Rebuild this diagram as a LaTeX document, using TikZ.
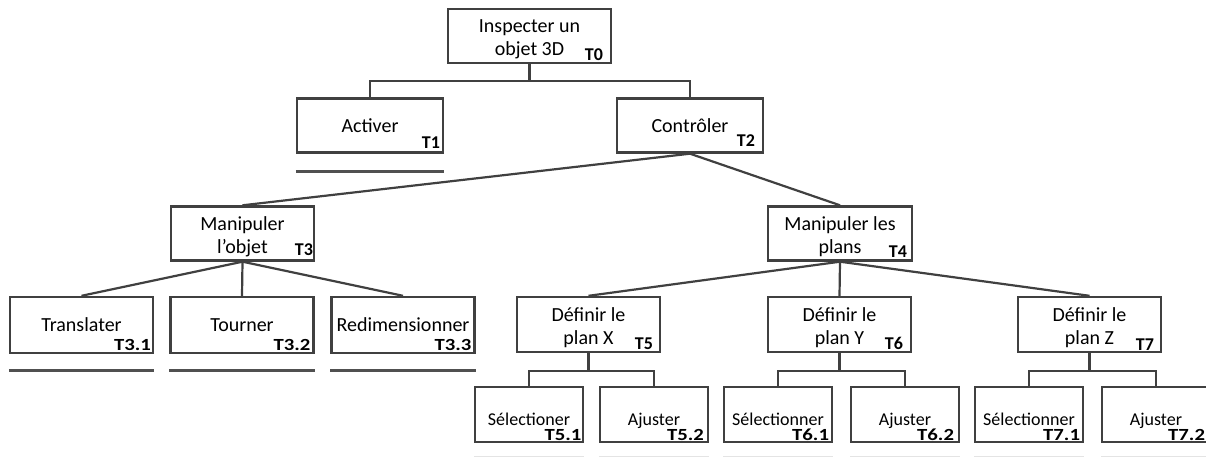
\documentclass[tikz,border=0pt]{standalone}
\usepackage{fontspec}
\setmainfont{Carlito}
\newfontfamily\labwide[FakeStretch=1.22]{Carlito}
\usetikzlibrary{calc}
\definecolor{linec}{RGB}{64,64,64}
\definecolor{ulc}{RGB}{80,80,80}
\definecolor{faint}{RGB}{228,228,228}
\newcommand\tlab[5]{\node[labst,#5] (#1l) at ([xshift=-#2pt,yshift=#3pt]#1.south east) {#4};}
\newcommand\twol[2]{\raisebox{-3.5pt}[\height][\depth]{\begin{tabular}{@{}c@{}}#1\\#2\end{tabular}}}
\begin{document}
\begin{tikzpicture}[x=1pt,y=-1pt,
  box/.style={draw=linec, line width=2.4pt, inner sep=0pt, fill=white,
    font=\fontsize{20}{23}\selectfont},
  top/.style={box, minimum width=146pt, minimum height=54pt},
  mid/.style={box, minimum width=143pt, minimum height=54pt},
  leaf/.style={box, minimum width=108pt, minimum height=55pt, text height=22pt, text depth=0pt,
    font=\fontsize{18}{21}\selectfont},
  labst/.style={inner sep=0pt, anchor=base east, font=\fontsize{18}{18}\selectfont\bfseries},
  wide/.style={font=\labwide\fontsize{17}{17}\selectfont\bfseries},
  conn/.style={draw=linec, line width=2.2pt},
  ul/.style={draw=ulc, line width=2.6pt},
  fl/.style={draw=faint, line width=1.6pt}]
\useasboundingbox (0,0) rectangle (1206,457);
% level 0
\node[box, minimum width=163pt, minimum height=54pt] (T0) at (529.5,36) {\twol{Inspecter un}{objet 3D}};
% level 1
\node[top] (T1) at (370,125.5) {Activer};
\node[top] (T2) at (690,125.5) {Contrôler};
% level 2
\node[mid] (T3) at (242.5,233.5) {\twol{Manipuler}{l’objet}};
\node[mid, minimum width=144pt] (T4) at (840,233.5) {\twol{Manipuler les}{plans}};
% level 3
\node[mid, minimum height=56pt] (T31) at (81.5,325) {Translater};
\node[mid, minimum height=56pt] (T32) at (242,325) {Tourner};
\node[mid, minimum height=56pt] (T33) at (403,325) {Redimensionner};
\node[mid, minimum height=55pt] (T5) at (588.5,324.5) {\twol{Définir le}{plan X}};
\node[mid, minimum height=55pt] (T6) at (839.5,324.5) {\twol{Définir le}{plan Y}};
\node[mid, minimum height=55pt] (T7) at (1089.5,324.5) {\twol{Définir le}{plan Z}};
% level 4
\node[leaf] (T51) at (529,414.5) {Sélectioner};
\node[leaf] (T52) at (654,414.5) {Ajuster};
\node[leaf] (T61) at (778,414.5) {Sélectionner};
\node[leaf] (T62) at (905,414.5) {Ajuster};
\node[leaf] (T71) at (1029,414.5) {Sélectionner};
\node[leaf] (T72) at (1156,414.5) {Ajuster};
% labels
\tlab{T0}{9}{4}{T0}{}
\tlab{T1}{4}{5}{T1}{}
\tlab{T2}{9}{7}{T2}{}
\tlab{T3}{2}{6}{T3}{}
\tlab{T4}{6}{4}{T4}{}
\tlab{T5}{8}{4}{T5}{}
\tlab{T6}{9}{4}{T6}{}
\tlab{T7}{8}{2.5}{T7}{}
\tlab{T31}{3}{4}{T3.1}{wide}
\tlab{T32}{4}{4}{T3.2}{wide}
\tlab{T33}{4}{4}{T3.3}{wide}
\tlab{T51}{2.5}{2.5}{T5.1}{wide}
\tlab{T52}{5}{2.5}{T5.2}{wide}
\tlab{T61}{4}{2.5}{T6.1}{wide}
\tlab{T62}{6}{2.5}{T6.2}{wide}
\tlab{T71}{4}{2.5}{T7.1}{wide}
\tlab{T72}{6}{2.5}{T7.2}{wide}
% connectors
\draw[conn] (T0.south) -- ++(0,17) -| (T1.north);
\draw[conn] (T0.south) -- ++(0,17) -| (T2.north);
\draw[conn] (T2.south) -- (T3.north);
\draw[conn] (T2.south) -- (T4.north);
\draw[conn] (T3.south) -- (T31.north);
\draw[conn] (T3.south) -- (T32.north);
\draw[conn] (T3.south) -- (T33.north);
\draw[conn] (T4.south) -- (T5.north);
\draw[conn] (T4.south) -- (T6.north);
\draw[conn] (T4.south) -- (T7.north);
\draw[conn] (T5.south) -- ++(0,18) -| (T51.north);
\draw[conn] (T5.south) -- ++(0,18) -| (T52.north);
\draw[conn] (T6.south) -- ++(0,18) -| (T61.north);
\draw[conn] (T6.south) -- ++(0,18) -| (T62.north);
\draw[conn] (T7.south) -- ++(0,18) -| (T71.north);
\draw[conn] (T7.south) -- ++(0,18) -| (T72.north);
% underlines
\draw[ul] ($(T1.south west)+(0,18)$) -- ($(T1.south east)+(0,18)$);
\foreach \n in {T31,T32,T33}{
  \draw[ul] ($(\n.south west)+(0,16)$) -- ($(\n.south east)+(0,16)$);}
\foreach \n in {T51,T52,T61,T62,T71,T72}{
  \draw[fl] ($(\n.south west)+(0,14)$) -- ($(\n.south east)+(0,14)$);}
\end{tikzpicture}
\end{document}
